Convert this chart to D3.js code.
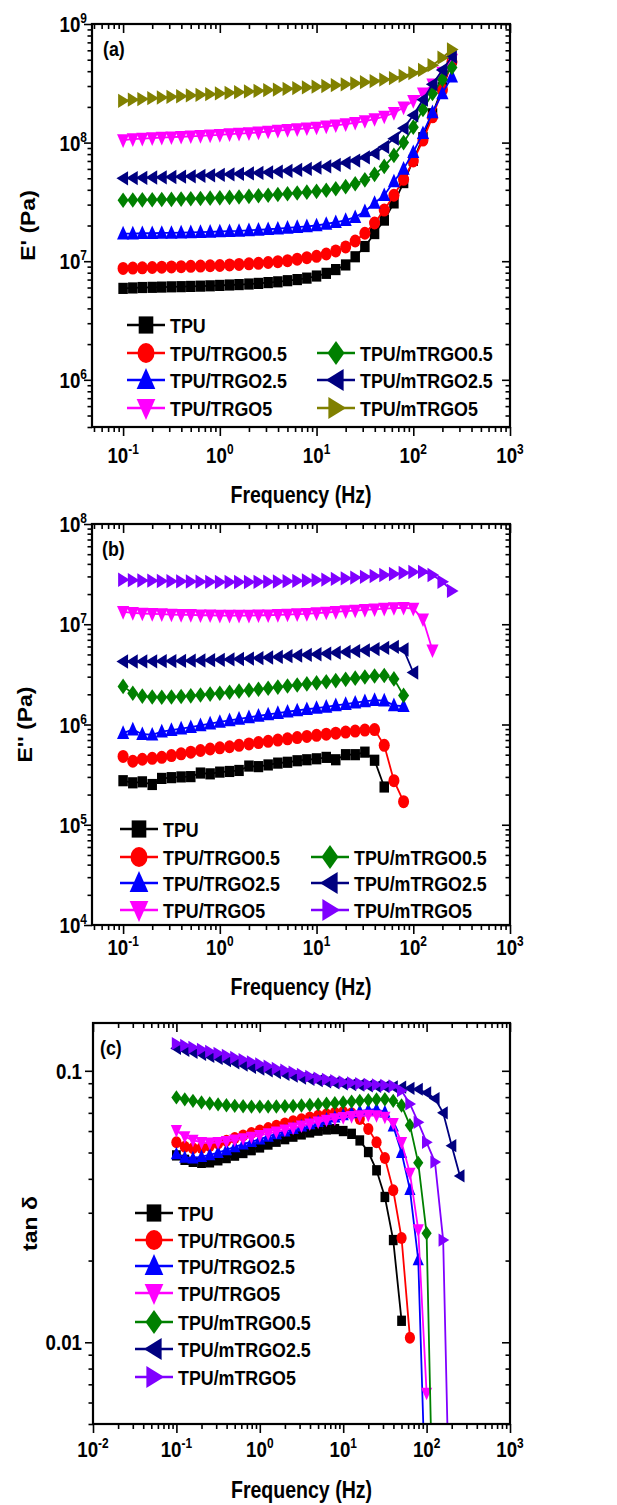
<!DOCTYPE html>
<html>
<head>
<meta charset="utf-8">
<script src="https://cdn.jsdelivr.net/npm/d3@7"></script>
<style>
  body { margin: 0; background: #fff; }
  text { font-family: "Liberation Sans", Arial, sans-serif; font-weight: bold; fill: #000; }
</style>
</head>
<body>
<div id="chart"></div>
<script>
// frequency points (Hz)
var freq = [0.1, 0.126, 0.158, 0.2, 0.251, 0.316, 0.398, 0.501, 0.631, 0.794,
            1, 1.26, 1.58, 2, 2.51, 3.16, 3.98, 5.01, 6.31, 7.94,
            10, 12.6, 15.8, 20, 25.1, 31.6, 39.8, 50.1, 63.1, 79.4,
            100, 126, 158, 200, 251];

var names = ["TPU", "TPU/TRGO0.5", "TPU/TRGO2.5", "TPU/TRGO5", "TPU/mTRGO0.5", "TPU/mTRGO2.5", "TPU/mTRGO5"];

// (a) storage modulus E' (Pa)
var storageTPU     = [5.9e6, 5.95e6, 6.0e6, 6.02e6, 6.05e6, 6.08e6, 6.1e6, 6.13e6, 6.16e6, 6.2e6, 6.25e6, 6.3e6, 6.35e6, 6.42e6, 6.5e6, 6.6e6, 6.7e6, 6.85e6, 7.0e6, 7.2e6, 7.5e6, 7.9e6, 8.5e6, 9.3e6, 1.09e7, 1.33e7, 1.71e7, 2.22e7, 3.1e7, 4.6e7, 7.1e7, 1.1e8, 1.75e8, 2.9e8, 5.0e8];
var storageTRGO05  = [8.7e6, 8.75e6, 8.8e6, 8.85e6, 8.9e6, 8.95e6, 9.0e6, 9.05e6, 9.1e6, 9.15e6, 9.2e6, 9.3e6, 9.4e6, 9.5e6, 9.6e6, 9.75e6, 9.9e6, 1.01e7, 1.04e7, 1.07e7, 1.1e7, 1.15e7, 1.22e7, 1.32e7, 1.48e7, 1.72e7, 2.1e7, 2.7e7, 3.6e7, 4.9e7, 7.0e7, 1.05e8, 1.65e8, 2.8e8, 4.8e8];
var storageTRGO25  = [1.71e7, 1.71e7, 1.72e7, 1.72e7, 1.73e7, 1.73e7, 1.74e7, 1.75e7, 1.76e7, 1.77e7, 1.78e7, 1.79e7, 1.8e7, 1.82e7, 1.84e7, 1.86e7, 1.88e7, 1.91e7, 1.94e7, 1.97e7, 2.0e7, 2.06e7, 2.13e7, 2.22e7, 2.35e7, 2.63e7, 3.1e7, 3.6e7, 4.7e7, 6.0e7, 8.3e7, 1.2e8, 1.8e8, 2.6e8, 3.6e8];
var storageTRGO5   = [1.05e8, 1.07e8, 1.08e8, 1.09e8, 1.1e8, 1.11e8, 1.12e8, 1.13e8, 1.14e8, 1.15e8, 1.16e8, 1.18e8, 1.19e8, 1.2e8, 1.22e8, 1.24e8, 1.26e8, 1.28e8, 1.3e8, 1.32e8, 1.34e8, 1.37e8, 1.4e8, 1.43e8, 1.47e8, 1.52e8, 1.58e8, 1.66e8, 1.78e8, 1.98e8, 2.25e8, 2.6e8, 3.1e8, 3.9e8, 5.0e8];
var storageMTRGO05 = [3.27e7, 3.28e7, 3.29e7, 3.3e7, 3.31e7, 3.32e7, 3.34e7, 3.36e7, 3.38e7, 3.4e7, 3.42e7, 3.45e7, 3.48e7, 3.52e7, 3.56e7, 3.6e7, 3.65e7, 3.7e7, 3.76e7, 3.82e7, 3.88e7, 3.96e7, 4.08e7, 4.25e7, 4.5e7, 4.85e7, 5.4e7, 6.3e7, 7.8e7, 1.0e8, 1.35e8, 1.9e8, 2.6e8, 3.4e8, 4.3e8];
var storageMTRGO25 = [5.0e7, 5.02e7, 5.05e7, 5.08e7, 5.1e7, 5.13e7, 5.16e7, 5.2e7, 5.25e7, 5.3e7, 5.35e7, 5.4e7, 5.45e7, 5.5e7, 5.56e7, 5.62e7, 5.7e7, 5.78e7, 5.88e7, 6.0e7, 6.15e7, 6.3e7, 6.5e7, 6.75e7, 7.05e7, 7.5e7, 8.1e7, 9.2e7, 1.08e8, 1.32e8, 1.7e8, 2.3e8, 3.1e8, 4.1e8, 5.3e8];
var storageMTRGO5  = [2.25e8, 2.3e8, 2.33e8, 2.37e8, 2.4e8, 2.43e8, 2.46e8, 2.5e8, 2.53e8, 2.56e8, 2.6e8, 2.63e8, 2.66e8, 2.7e8, 2.73e8, 2.77e8, 2.8e8, 2.84e8, 2.88e8, 2.92e8, 2.96e8, 3.0e8, 3.05e8, 3.1e8, 3.16e8, 3.23e8, 3.3e8, 3.4e8, 3.5e8, 3.65e8, 3.85e8, 4.1e8, 4.5e8, 5.2e8, 6.1e8];

// (b) loss modulus E'' (Pa)
var lossTPU     = [2.75e5, 2.62e5, 2.68e5, 2.52e5, 2.9e5, 2.95e5, 3.0e5, 3.02e5, 3.28e5, 3.22e5, 3.35e5, 3.4e5, 3.48e5, 3.85e5, 3.8e5, 3.95e5, 4.12e5, 4.2e5, 4.35e5, 4.45e5, 4.55e5, 4.7e5, 4.45e5, 5.0e5, 5.0e5, 5.3e5, 4.4e5, 2.38e5];
var lossTRGO05  = [4.8e5, 4.3e5, 4.5e5, 4.6e5, 4.7e5, 4.9e5, 5.1e5, 5.3e5, 5.5e5, 5.7e5, 5.85e5, 6.0e5, 6.2e5, 6.4e5, 6.6e5, 6.8e5, 7.0e5, 7.2e5, 7.4e5, 7.6e5, 7.8e5, 8.0e5, 8.2e5, 8.4e5, 8.6e5, 8.8e5, 8.9e5, 6.2e5, 2.75e5, 1.7e5];
var lossTRGO25  = [8.2e5, 8.9e5, 8.0e5, 7.9e5, 8.5e5, 8.8e5, 9.1e5, 9.4e5, 9.8e5, 1.02e6, 1.06e6, 1.1e6, 1.14e6, 1.18e6, 1.22e6, 1.26e6, 1.3e6, 1.34e6, 1.38e6, 1.42e6, 1.46e6, 1.5e6, 1.55e6, 1.6e6, 1.65e6, 1.7e6, 1.75e6, 1.73e6, 1.55e6, 1.52e6];
var lossTRGO5   = [1.33e7, 1.3e7, 1.28e7, 1.27e7, 1.26e7, 1.25e7, 1.24e7, 1.24e7, 1.23e7, 1.23e7, 1.22e7, 1.22e7, 1.22e7, 1.22e7, 1.23e7, 1.23e7, 1.24e7, 1.25e7, 1.26e7, 1.27e7, 1.29e7, 1.31e7, 1.33e7, 1.35e7, 1.37e7, 1.39e7, 1.41e7, 1.43e7, 1.45e7, 1.46e7, 1.43e7, 1.12e7, 5.5e6];
var lossMTRGO05 = [2.4e6, 2.05e6, 1.92e6, 1.88e6, 1.87e6, 1.88e6, 1.9e6, 1.93e6, 1.97e6, 2.01e6, 2.05e6, 2.1e6, 2.15e6, 2.2e6, 2.25e6, 2.3e6, 2.36e6, 2.42e6, 2.48e6, 2.54e6, 2.6e6, 2.67e6, 2.74e6, 2.82e6, 2.9e6, 2.98e6, 3.05e6, 3.08e6, 2.85e6, 1.95e6];
var lossMTRGO25 = [4.25e6, 4.25e6, 4.26e6, 4.27e6, 4.28e6, 4.29e6, 4.31e6, 4.33e6, 4.35e6, 4.38e6, 4.42e6, 4.46e6, 4.5e6, 4.55e6, 4.6e6, 4.66e6, 4.72e6, 4.8e6, 4.88e6, 4.95e6, 5.02e6, 5.1e6, 5.2e6, 5.3e6, 5.4e6, 5.5e6, 5.65e6, 5.8e6, 5.95e6, 5.6e6, 3.3e6];
var lossMTRGO5  = [2.78e7, 2.75e7, 2.73e7, 2.72e7, 2.7e7, 2.69e7, 2.68e7, 2.67e7, 2.66e7, 2.65e7, 2.64e7, 2.64e7, 2.64e7, 2.64e7, 2.65e7, 2.66e7, 2.67e7, 2.69e7, 2.71e7, 2.73e7, 2.76e7, 2.79e7, 2.83e7, 2.87e7, 2.92e7, 2.97e7, 3.03e7, 3.1e7, 3.17e7, 3.25e7, 3.32e7, 3.33e7, 3.1e7, 2.65e7, 2.15e7];

// (c) tan delta (last points of some series fall below the axis)
var tanTPU     = [0.0488, 0.047, 0.0462, 0.0458, 0.046, 0.0468, 0.0477, 0.0487, 0.0498, 0.051, 0.0522, 0.0535, 0.0548, 0.056, 0.0572, 0.0583, 0.0593, 0.0602, 0.0608, 0.061, 0.06, 0.0586, 0.0554, 0.0502, 0.043, 0.0343, 0.0238, 0.012];
var tanTRGO05  = [0.0546, 0.0525, 0.0518, 0.052, 0.0528, 0.054, 0.0552, 0.0565, 0.0578, 0.059, 0.0603, 0.0615, 0.0628, 0.064, 0.0652, 0.0663, 0.0673, 0.0683, 0.0692, 0.07, 0.0705, 0.0698, 0.0665, 0.0611, 0.0545, 0.0477, 0.0363, 0.0242, 0.0104];
var tanTRGO25  = [0.0494, 0.048, 0.0477, 0.0483, 0.049, 0.05, 0.0512, 0.0525, 0.0537, 0.0548, 0.056, 0.0573, 0.0586, 0.06, 0.0613, 0.0626, 0.0638, 0.065, 0.0663, 0.0675, 0.0688, 0.07, 0.071, 0.0718, 0.0722, 0.0705, 0.0625, 0.050, 0.0365, 0.0201, 0.002];
var tanTRGO5   = [0.0603, 0.0572, 0.0555, 0.0545, 0.0542, 0.0545, 0.055, 0.0556, 0.0563, 0.057, 0.0578, 0.0587, 0.0596, 0.0606, 0.0616, 0.0627, 0.0638, 0.0648, 0.0658, 0.0666, 0.0673, 0.0679, 0.0683, 0.0686, 0.0684, 0.0675, 0.064, 0.0545, 0.042, 0.026, 0.0065];
var tanMTRGO05 = [0.0798, 0.0785, 0.0775, 0.0765, 0.0758, 0.0752, 0.0747, 0.0743, 0.074, 0.0738, 0.0738, 0.0738, 0.0739, 0.074, 0.0742, 0.0745, 0.0748, 0.0752, 0.0756, 0.076, 0.0765, 0.077, 0.0775, 0.078, 0.0784, 0.0786, 0.0775, 0.0745, 0.063, 0.0458, 0.0252, 0.001];
var tanMTRGO25 = [0.121, 0.119, 0.117, 0.115, 0.113, 0.111, 0.109, 0.107, 0.105, 0.103, 0.1015, 0.1, 0.0985, 0.097, 0.0955, 0.094, 0.093, 0.092, 0.091, 0.0902, 0.0895, 0.089, 0.0885, 0.088, 0.0877, 0.0875, 0.0873, 0.087, 0.0862, 0.0855, 0.083, 0.079, 0.070, 0.053, 0.041];
var tanMTRGO5  = [0.126, 0.124, 0.122, 0.12, 0.118, 0.116, 0.114, 0.112, 0.11, 0.108, 0.106, 0.104, 0.102, 0.1005, 0.099, 0.097, 0.0955, 0.094, 0.093, 0.092, 0.091, 0.0903, 0.0897, 0.0892, 0.0888, 0.0884, 0.088, 0.0845, 0.0755, 0.0646, 0.0545, 0.0461, 0.0238, 0.001];

var shapes = ["square", "circle", "up", "down", "diamond", "left", "right"];
var colorsA = ["#000000", "#ff0000", "#0000ff", "#ff00ff", "#008000", "#000080", "#808000"];
var colorsBC = ["#000000", "#ff0000", "#0000ff", "#ff00ff", "#008000", "#000080", "#8000ff"];

// the original figure is a bit narrower than tall, so text and symbols are squeezed sideways
var SQ = 0.85;

var svg = d3.select('#chart').append('svg')
    .attr('width', 617)
    .attr('height', 1505);
svg.append('rect').attr('width', 617).attr('height', 1505).attr('fill', '#fff');

function markerPath(shape, s) {
    var p;
    if (shape === 'square') {
        var h = s * 0.43;
        return 'M' + (-h) + ',' + (-h) + 'H' + h + 'V' + h + 'H' + (-h) + 'Z';
    }
    if (shape === 'circle') {
        var r = s * 0.5;
        return 'M' + r + ',0A' + r + ',' + r + ' 0 1,1 ' + (-r) + ',0A' + r + ',' + r + ' 0 1,1 ' + r + ',0Z';
    }
    if (shape === 'up') p = [[0, -0.6], [0.55, 0.45], [-0.55, 0.45]];
    if (shape === 'down') p = [[0, 0.6], [0.55, -0.45], [-0.55, -0.45]];
    if (shape === 'left') p = [[-0.6, 0], [0.45, -0.55], [0.45, 0.55]];
    if (shape === 'right') p = [[0.6, 0], [-0.45, -0.55], [-0.45, 0.55]];
    if (shape === 'diamond') p = [[0, -0.6], [0.5, 0], [0, 0.6], [-0.5, 0]];
    return 'M' + p.map(function (d) { return (d[0] * s) + ',' + (d[1] * s); }).join('L') + 'Z';
}

function logTicks(domain) {
    var majors = [], minors = [];
    var k0 = Math.floor(Math.log10(domain[0])), k1 = Math.ceil(Math.log10(domain[1]));
    for (var k = k0; k <= k1; k++) {
        for (var m = 1; m <= 9; m++) {
            var v = +(m * Math.pow(10, k)).toPrecision(6);
            if (v >= domain[0] * 0.999 && v <= domain[1] * 1.001) (m === 1 ? majors : minors).push(v);
        }
    }
    return { majors: majors, minors: minors };
}

function addText(g, x, y, str, size, anchor) {
    return g.append('text')
        .attr('transform', 'translate(' + x + ',' + y + ') scale(' + SQ + ',1)')
        .attr('text-anchor', anchor || 'start')
        .style('font-size', size + 'px')
        .text(str);
}

function powLabel(g, x, y, anchor, exp) {
    var t = addText(g, x, y, '10', 22, anchor);
    t.append('tspan').attr('dy', -9).style('font-size', '14px').text(exp);
}

function drawPanel(p) {
    var x = d3.scaleLog().domain(p.xDomain).range([p.left, p.right]);
    var y = d3.scaleLog().domain(p.yDomain).range([p.bottom, p.top]);
    var g = svg.append('g');

    svg.append('clipPath').attr('id', 'clip' + p.id)
        .append('rect').attr('x', p.left).attr('y', p.top)
        .attr('width', p.right - p.left).attr('height', p.bottom - p.top);

    var plot = g.append('g').attr('clip-path', 'url(#clip' + p.id + ')');
    var line = d3.line().x(function (d) { return x(d[0]); }).y(function (d) { return y(d[1]); });

    p.series.forEach(function (s, i) {
        var pts = s.map(function (v, j) { return [freq[j], v]; });
        plot.append('path').datum(pts).attr('d', line)
            .attr('fill', 'none').attr('stroke', p.colors[i]).attr('stroke-width', 1.8);
        plot.selectAll(null).data(pts).enter().append('path')
            .attr('transform', function (d) { return 'translate(' + x(d[0]) + ',' + y(d[1]) + ') scale(' + SQ + ',1)'; })
            .attr('d', markerPath(shapes[i], p.markSize))
            .attr('fill', p.colors[i]);
    });

    // ticks: bottom/left outward, top/right inward
    var xt = logTicks(p.xDomain), yt = logTicks(p.yDomain);
    var axes = g.append('g');
    [[xt.majors, 9], [xt.minors, 5]].forEach(function (t) {
        axes.append('g').attr('transform', 'translate(0,' + p.bottom + ')')
            .call(d3.axisBottom(x).tickValues(t[0]).tickSize(t[1]).tickFormat(''));
        axes.append('g').attr('transform', 'translate(0,' + p.top + ')')
            .call(d3.axisBottom(x).tickValues(t[0]).tickSize(t[1]).tickFormat(''));
    });
    [[yt.majors, 8], [yt.minors, 4.5]].forEach(function (t) {
        axes.append('g').attr('transform', 'translate(' + p.left + ',0)')
            .call(d3.axisLeft(y).tickValues(t[0]).tickSize(t[1]).tickFormat(''));
        axes.append('g').attr('transform', 'translate(' + p.right + ',0)')
            .call(d3.axisLeft(y).tickValues(t[0]).tickSize(t[1]).tickFormat(''));
    });
    axes.selectAll('.domain').remove();
    axes.selectAll('.tick line').attr('stroke', '#000').attr('stroke-width', 1.6);

    g.append('rect').attr('x', p.left).attr('y', p.top)
        .attr('width', p.right - p.left).attr('height', p.bottom - p.top)
        .attr('fill', 'none').attr('stroke', '#000').attr('stroke-width', 2.2);

    // tick labels
    xt.majors.forEach(function (v) {
        powLabel(g, x(v), p.bottom + p.xLabelOff, 'middle', String(Math.round(Math.log10(v))));
    });
    yt.majors.forEach(function (v) {
        if (p.plainY) {
            addText(g, p.left - 11, y(v) + 8, String(v), 22, 'end');
        } else {
            powLabel(g, p.left - 5, y(v) + 8, 'end', String(Math.round(Math.log10(v))));
        }
    });

    addText(g, (p.left + p.right) / 2, p.bottom + p.titleOff, 'Frequency (Hz)', 23, 'middle');
    g.append('text')
        .attr('transform', 'translate(' + p.yTitleX + ',' + (p.top + p.bottom) / 2 + ') rotate(-90) scale(1,' + SQ + ')')
        .attr('text-anchor', 'middle').attr('dy', '0.35em').style('font-size', '23px').text(p.yTitle);
    addText(g, p.tagX, p.top + 32, p.tag, 21);

    // legend
    p.legend.forEach(function (e) {
        var i = e.i, cy = e.y;
        g.append('line').attr('x1', e.x).attr('x2', e.x + 38).attr('y1', cy).attr('y2', cy)
            .attr('stroke', p.colors[i]).attr('stroke-width', 2.5);
        g.append('path').attr('transform', 'translate(' + (e.x + 19) + ',' + cy + ') scale(' + SQ + ',1)')
            .attr('d', markerPath(shapes[i], 20)).attr('fill', p.colors[i]);
        addText(g, e.x + 43, cy + 7.5, names[i], 21);
    });
}

drawPanel({
    id: 'a', left: 92, right: 510, top: 24, bottom: 427, markSize: 13,
    xDomain: [0.0477, 1000], yDomain: [4e5, 1e9],
    series: [storageTPU, storageTRGO05, storageTRGO25, storageTRGO5, storageMTRGO05, storageMTRGO25, storageMTRGO5],
    colors: colorsA, yTitle: "E' (Pa)", yTitleX: 28, tag: '(a)', tagX: 103, xLabelOff: 36, titleOff: 76,
    legend: [{ i: 0, x: 127, y: 325 }, { i: 1, x: 127, y: 353 }, { i: 2, x: 127, y: 380 }, { i: 3, x: 127, y: 408 },
             { i: 4, x: 317, y: 353 }, { i: 5, x: 317, y: 380 }, { i: 6, x: 317, y: 408 }]
});

drawPanel({
    id: 'b', left: 92, right: 510, top: 524, bottom: 925, markSize: 13,
    xDomain: [0.0477, 1000], yDomain: [1e4, 1e8],
    series: [lossTPU, lossTRGO05, lossTRGO25, lossTRGO5, lossMTRGO05, lossMTRGO25, lossMTRGO5],
    colors: colorsBC, yTitle: "E'' (Pa)", yTitleX: 25, tag: '(b)', tagX: 102, xLabelOff: 30, titleOff: 70,
    legend: [{ i: 0, x: 120, y: 829 }, { i: 1, x: 120, y: 857 }, { i: 2, x: 120, y: 883 }, { i: 3, x: 120, y: 910 },
             { i: 4, x: 311, y: 857 }, { i: 5, x: 311, y: 883 }, { i: 6, x: 311, y: 910 }]
});

drawPanel({
    id: 'c', left: 93, right: 510, top: 1023, bottom: 1424, markSize: 12,
    xDomain: [0.01, 1000], yDomain: [0.005, 0.15], plainY: true,
    series: [tanTPU, tanTRGO05, tanTRGO25, tanTRGO5, tanMTRGO05, tanMTRGO25, tanMTRGO5],
    colors: colorsBC, yTitle: 'tan \u03b4', yTitleX: 30, tag: '(c)', tagX: 100, xLabelOff: 33, titleOff: 74,
    legend: [{ i: 0, x: 135, y: 1213 }, { i: 1, x: 135, y: 1240 }, { i: 2, x: 135, y: 1266 }, { i: 3, x: 135, y: 1293 },
             { i: 4, x: 135, y: 1322 }, { i: 5, x: 135, y: 1349 }, { i: 6, x: 135, y: 1377 }]
});
</script>
</body>
</html>
